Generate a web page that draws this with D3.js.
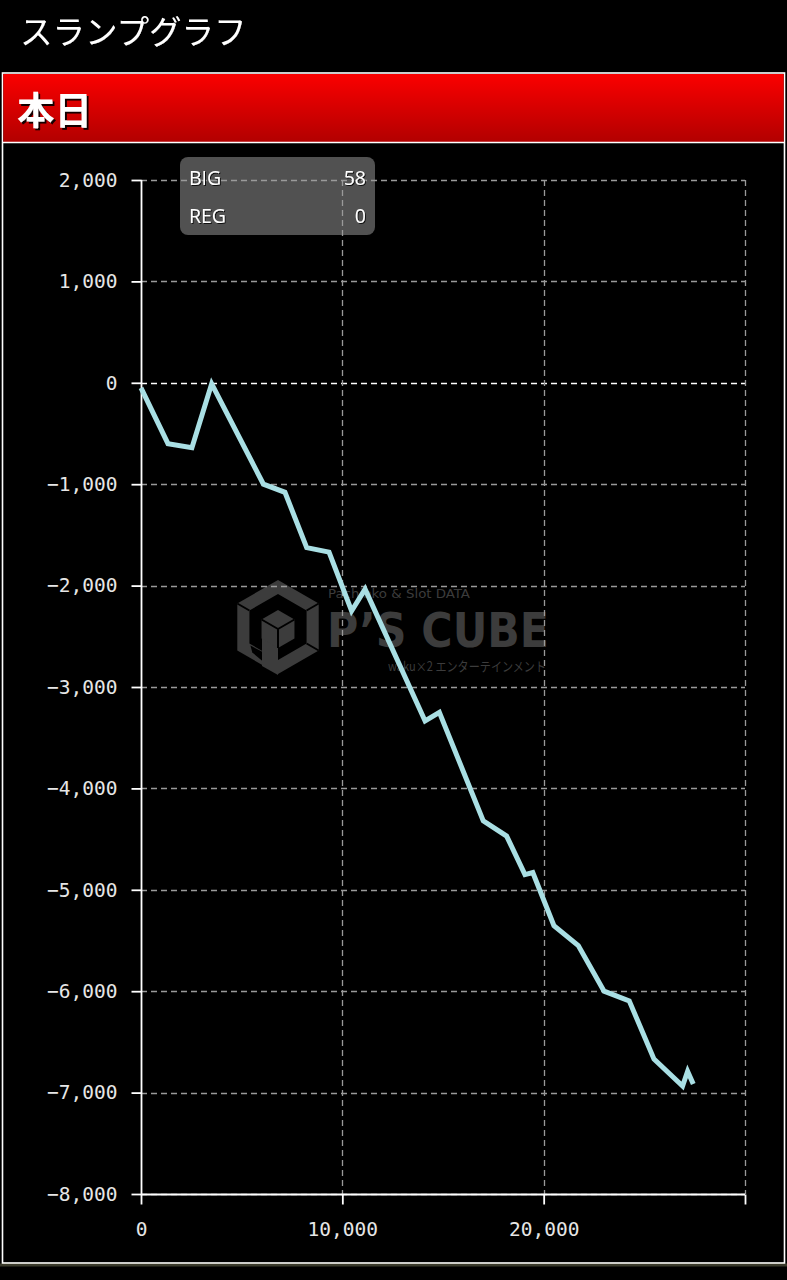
<!DOCTYPE html>
<html>
<head>
<meta charset="utf-8">
<script src="https://cdn.jsdelivr.net/npm/d3@7"></script>
<style>
  html, body { margin: 0; padding: 0; background: #000; }
  svg { display: block; }
</style>
</head>
<body>
<svg id="chart" width="787" height="1280"></svg>
<script>
// ---- data ----
const pageTitle = "スランプグラフ";
const panelTitle = "本日";
const games = [0, 1340, 2530, 3510, 6080, 7150, 8230, 9340, 10460, 11130, 14110, 14820, 17000, 18160, 19070, 19460, 20510, 21720, 23000, 24250, 25480, 26900, 27150, 27430];
const diff  = [-50, -600, -640, -10, -1000, -1080, -1625, -1670, -2250, -2035, -3335, -3250, -4320, -4470, -4850, -4830, -5355, -5550, -6000, -6095, -6670, -6935, -6790, -6915];
const yTicks = [2000, 1000, 0, -1000, -2000, -3000, -4000, -5000, -6000, -7000, -8000];
const xTicks = [0, 10000, 20000, 30000];
const xTickLabels = ["0", "10,000", "20,000", ""];
const legendLabels = ["BIG", "REG"];
const legendValues = ["58", "0"];

// ---- setup ----
const svg = d3.select("#chart");
const W = 787, H = 1280;
const plot = { left: 141, right: 745, top: 180, bottom: 1194 };

const x = d3.scaleLinear().domain([0, 30000]).range([plot.left, plot.right]);
const y = d3.scaleLinear().domain([2000, -8000]).range([plot.top, plot.bottom]);

const defs = svg.append("defs");
const grad = defs.append("linearGradient").attr("id", "redgrad").attr("x1", 0).attr("y1", 0).attr("x2", 0).attr("y2", 1);
grad.append("stop").attr("offset", "0%").attr("stop-color", "#fb0000");
grad.append("stop").attr("offset", "100%").attr("stop-color", "#b20000");
const sh = defs.append("filter").attr("id", "shadow").attr("x", "-20%").attr("y", "-20%").attr("width", "140%").attr("height", "140%");
sh.append("feDropShadow").attr("dx", 2).attr("dy", 2).attr("stdDeviation", 0.6).attr("flood-color", "#000").attr("flood-opacity", 0.9);
const sh2 = defs.append("filter").attr("id", "shadow2").attr("x", "-20%").attr("y", "-20%").attr("width", "140%").attr("height", "140%");
sh2.append("feDropShadow").attr("dx", 1).attr("dy", 1).attr("stdDeviation", 0.5).attr("flood-color", "#000").attr("flood-opacity", 0.8);

// page background
svg.append("rect").attr("width", W).attr("height", H).attr("fill", "#000");

// page title
svg.append("text")
  .attr("x", 20).attr("y", 44)
  .attr("fill", "#fff")
  .attr("font-family", "'Noto Sans CJK JP', sans-serif")
  .attr("font-size", 32.5)
  .attr("font-weight", 400)
  .attr("filter", "url(#shadow2)")
  .text(pageTitle);

// panel
svg.append("rect")
  .attr("x", 2.5).attr("y", 73).attr("width", 782).attr("height", 1190)
  .attr("fill", "#000").attr("stroke", "#fff").attr("stroke-width", 1.6);
svg.append("line").attr("x1", 0).attr("x2", W).attr("y1", 1265).attr("y2", 1265)
  .attr("stroke", "rgba(230,230,170,0.25)").attr("stroke-width", 3);
svg.append("rect")
  .attr("x", 3.3).attr("y", 74).attr("width", 780.4).attr("height", 68)
  .attr("fill", "url(#redgrad)");
svg.append("line").attr("x1", 3).attr("x2", 784).attr("y1", 142.5).attr("y2", 142.5)
  .attr("stroke", "#fff").attr("stroke-width", 1.6);
svg.append("text")
  .attr("x", 17).attr("y", 124)
  .attr("fill", "#fff")
  .attr("font-family", "'Noto Sans CJK JP', sans-serif")
  .attr("font-size", 37.5)
  .attr("font-weight", 700)
  .attr("filter", "url(#shadow)")
  .text(panelTitle);

// ---- watermark ----
const wm = svg.append("g").attr("fill", "#3c3c3c");
function hex(cx, cy, r) {
  const pts = [];
  for (let i = 0; i < 6; i++) {
    const a = -Math.PI / 2 + i * Math.PI / 3;
    pts.push([cx + r * Math.cos(a), cy + r * Math.sin(a)]);
  }
  return pts;
}
const hcx = 278, hcy = 627;
const outer = hex(hcx, hcy, 47), inner = hex(hcx, hcy, 33);
const ringPath = "M" + outer.join("L") + "Z M" + inner.join("L") + "Z";
wm.append("path").attr("d", ringPath).attr("fill-rule", "evenodd");
// cut bottom-left segment of ring (between lower-left and bottom vertices)
wm.append("path")
  .attr("d", "M" + [[outer[4][0] + 15, outer[4][1] + 2], outer[3], inner[3], [inner[4][0] + 1, inner[4][1] + 2]].join("L") + "Z")
  .attr("fill", "#000");
// stem
wm.append("path")
  .attr("d", "M" + [[262, 638], [278, 647], [278, 675], [262, 666]].join("L") + "Z");
// inner cube
const cube = hex(278, 629, 19);
wm.append("path").attr("d", "M" + cube.join("L") + "Z");
const sep = wm.append("g").attr("stroke", "#000").attr("stroke-width", 2).attr("fill", "none");
sep.append("path").attr("d", "M278,629L" + cube[5] + "M278,629L" + cube[1] + "M278,629L" + cube[3]);
sep.append("path").attr("d", "M" + outer[5] + "L" + inner[5] + "M" + outer[1] + "L" + inner[1] + "M" + outer[2] + "L" + inner[2]);
wm.append("text").attr("x", 328).attr("y", 598)
  .attr("font-family", "'DejaVu Sans Condensed', 'DejaVu Sans', sans-serif").attr("font-size", 13)
  .attr("textLength", 142).attr("lengthAdjust", "spacingAndGlyphs")
  .text("Pachinko & Slot DATA");
wm.append("text").attr("x", 327).attr("y", 647)
  .attr("font-family", "'DejaVu Sans', sans-serif").attr("font-size", 48).attr("font-weight", 700)
  .attr("textLength", 222).attr("lengthAdjust", "spacingAndGlyphs")
  .text("P’S CUBE");
wm.append("text").attr("x", 388).attr("y", 671)
  .attr("font-family", "'Noto Sans CJK JP', sans-serif").attr("font-size", 13)
  .attr("textLength", 158).attr("lengthAdjust", "spacingAndGlyphs")
  .text("waku×2 エンターテインメント");

// ---- legend box (under grid) ----
svg.append("rect")
  .attr("x", 180).attr("y", 157).attr("width", 195).attr("height", 78)
  .attr("rx", 8).attr("ry", 8)
  .attr("fill", "rgba(112,112,112,0.72)");

// ---- grid ----
const grid = svg.append("g");
grid.selectAll("line.h").data(yTicks).join("line")
  .attr("x1", plot.left).attr("x2", plot.right)
  .attr("y1", d => Math.round(y(d)) + 0.5).attr("y2", d => Math.round(y(d)) + 0.5)
  .attr("stroke", d => d === 0 ? "#ffffff" : "#9a9a9a")
  .attr("stroke-width", d => d === 0 ? 1.6 : 1.3)
  .attr("stroke-dasharray", "6,4");
grid.selectAll("line.v").data(xTicks.filter(d => d > 0)).join("line")
  .attr("x1", d => Math.round(x(d)) + 0.5).attr("x2", d => Math.round(x(d)) + 0.5)
  .attr("y1", plot.top).attr("y2", plot.bottom)
  .attr("stroke", "#9a9a9a").attr("stroke-width", 1.3)
  .attr("stroke-dasharray", "6,4");

// ---- axes ----
const fmt = d3.format(",");
const yAxis = d3.axisLeft(y).tickValues(yTicks).tickFormat(fmt).tickSize(10).tickPadding(14);
const xAxis = d3.axisBottom(x).tickValues(xTicks).tickFormat((d, i) => xTickLabels[i]).tickSize(10).tickPadding(18);

const gy = svg.append("g").attr("transform", `translate(${plot.left + 0.5},0)`).call(yAxis);
const gx = svg.append("g").attr("transform", `translate(0,${plot.bottom + 0.5})`).call(xAxis);
[gx, gy].forEach(g => {
  g.select(".domain").attr("stroke", "#fff").attr("stroke-width", 1.8);
  g.selectAll(".tick line").attr("stroke", "#fff").attr("stroke-width", 1.8);
  g.selectAll(".tick text")
    .attr("fill", "#e6e6e6")
    .attr("font-family", "'DejaVu Sans Mono', monospace")
    .attr("font-size", 19.5);
});
gy.select(".domain").attr("d", `M0,${plot.top}V${plot.bottom}`);
gx.select(".domain").attr("d", `M${plot.left},0H${plot.right}`);

// ---- line ----
const pts = games.map((g, i) => [g, diff[i]]);
svg.append("path")
  .datum(pts)
  .attr("d", d3.line().x(d => x(d[0])).y(d => y(d[1])))
  .attr("fill", "none")
  .attr("stroke", "#a9dfe4")
  .attr("stroke-width", 5)
  .attr("stroke-linejoin", "miter")
  .attr("stroke-miterlimit", 4);

// ---- legend text ----
const lg = svg.append("g")
  .attr("font-family", "'Open Sans', 'Noto Sans', sans-serif")
  .attr("font-size", 19.5)
  .attr("fill", "#fff")
  .attr("filter", "url(#shadow2)");
legendLabels.forEach((lab, i) => {
  const yy = 185 + i * 38;
  lg.append("text").attr("x", 189).attr("y", yy).text(lab);
  lg.append("text").attr("x", 366).attr("y", yy).attr("text-anchor", "end").text(legendValues[i]);
});
</script>
</body>
</html>
